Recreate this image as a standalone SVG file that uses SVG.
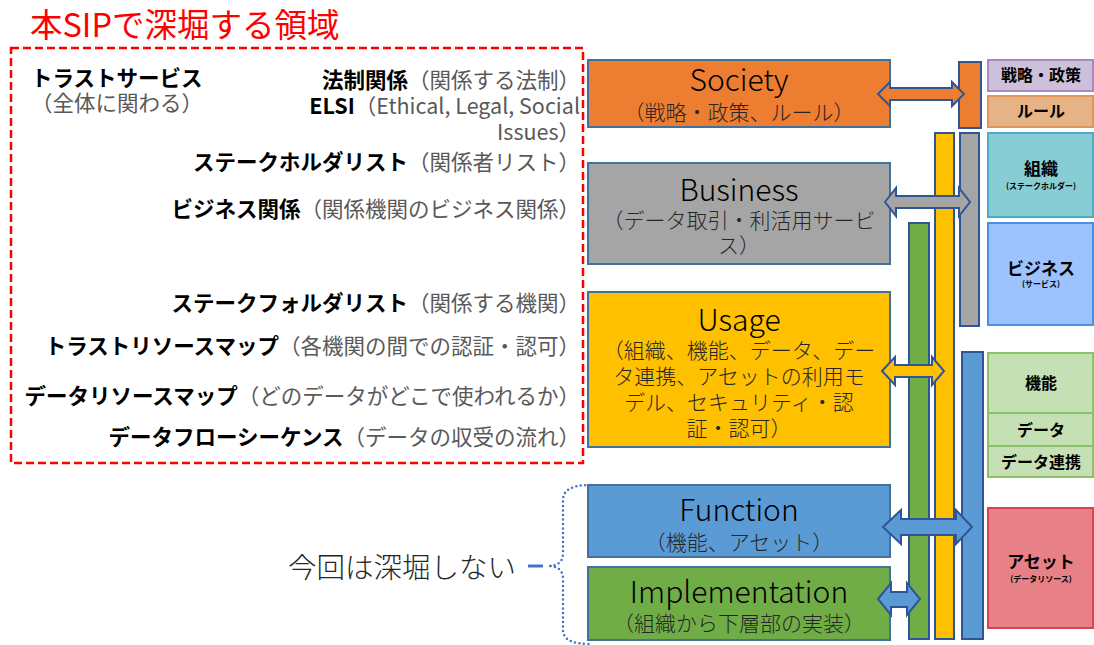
<svg xmlns="http://www.w3.org/2000/svg" width="1094" height="645" viewBox="0 0 1094 645">
<style>
text{font-family:"Noto Sans CJK JP","Noto Sans",sans-serif;dominant-baseline:central}
.b{font-weight:bold;fill:#000}
.g{fill:#595959;font-weight:normal}
.lt{font-size:21.5px}
.box{stroke:#41719C;stroke-width:2}
.bar{stroke:#2F5597;stroke-width:2}
.arr{stroke:#2F5597;stroke-width:2;stroke-linejoin:miter}
.big{font-size:30px;font-weight:300;fill:#000;text-anchor:middle}
.sub{font-size:21px;font-weight:300;fill:#262626;text-anchor:middle}
.rt{font-weight:bold;text-anchor:middle;fill:#000}
</style>
<rect width="1094" height="645" fill="#fff"/>

<g id="title"><text x="30" y="22" font-size="32.5" fill="#FF0000">本SIPで深堀する領域</text></g>
<g id="scope"><rect x="11" y="48" width="572" height="415" fill="none" stroke="#FF0000" stroke-width="2.5" stroke-dasharray="8 4"/></g>

<g id="left-texts" class="lt">
<text x="31" y="76" class="b">トラストサービス</text>
<text x="31" y="101" class="g">（全体に関わる）</text>
<text x="580" y="78" text-anchor="end"><tspan class="b">法制関係</tspan><tspan class="g">（関係する法制）</tspan></text>
<text x="580" y="104" text-anchor="end"><tspan class="b">ELSI</tspan><tspan class="g">（Ethical, Legal, Social</tspan></text>
<text x="580" y="130" text-anchor="end" class="g">Issues）</text>
<text x="580" y="160" text-anchor="end"><tspan class="b">ステークホルダリスト</tspan><tspan class="g">（関係者リスト）</tspan></text>
<text x="580" y="207" text-anchor="end"><tspan class="b">ビジネス関係</tspan><tspan class="g">（関係機関のビジネス関係）</tspan></text>
<text x="580" y="301" text-anchor="end"><tspan class="b">ステークフォルダリスト</tspan><tspan class="g">（関係する機関）</tspan></text>
<text x="580" y="344" text-anchor="end"><tspan class="b">トラストリソースマップ</tspan><tspan class="g">（各機関の間での認証・認可）</tspan></text>
<text x="580" y="394" text-anchor="end"><tspan class="b">データリソースマップ</tspan><tspan class="g">（どのデータがどこで使われるか）</tspan></text>
<text x="580" y="435" text-anchor="end"><tspan class="b">データフローシーケンス</tspan><tspan class="g">（データの収受の流れ）</tspan></text>
</g>

<g id="society"><rect class="box" x="588" y="60" width="302" height="67" fill="#ED7D31"/>
<text class="big" x="739" y="78">Society</text><text class="sub" x="739" y="111">（戦略・政策、ルール）</text></g>
<g id="business"><rect class="box" x="588" y="163" width="302" height="101" fill="#A5A5A5"/>
<text class="big" x="739" y="188">Business</text><text class="sub" x="739" y="219">（データ取引・利活用サービ</text><text class="sub" x="739" y="244">ス）</text></g>
<g id="usage"><rect class="box" x="588" y="292" width="302" height="155" fill="#FFC000"/>
<text class="big" x="739" y="318">Usage</text>
<text class="sub" x="739" y="349">（組織、機能、データ、デー</text>
<text class="sub" x="739" y="375">タ連携、アセットの利用モ</text>
<text class="sub" x="739" y="401">デル、セキュリティ・認</text>
<text class="sub" x="739" y="427">証・認可）</text></g>
<g id="function"><rect class="box" x="588" y="485" width="302" height="72" fill="#5B9BD5"/>
<text class="big" x="739" y="508">Function</text><text class="sub" x="739" y="541">（機能、アセット）</text></g>
<g id="implementation"><rect class="box" x="588" y="567" width="302" height="73" fill="#70AD47"/>
<text class="big" x="739" y="590">Implementation</text><text class="sub" x="739" y="622">（組織から下層部の実装）</text></g>

<g id="bars">
<rect class="bar" x="959" y="62" width="22" height="66" fill="#ED7D31"/>
<rect class="bar" x="960" y="133" width="19" height="193" fill="#A5A5A5"/>
<rect class="bar" x="935" y="133" width="19" height="506" fill="#FFC000"/>
<rect class="bar" x="909" y="223" width="20" height="416" fill="#70AD47"/>
<rect class="bar" x="962" y="352" width="21" height="287" fill="#5B9BD5"/>
</g>

<g id="connectors">
<polygon class="arr" fill="#ED7D31" points="878,94 890,82 890,88 952,88 952,82 964,94 952,106 952,100 890,100 890,106"/>
<polygon class="arr" fill="#A5A5A5" points="885,202 896,188 896,196 959,196 959,188 970,202 959,216 959,208 896,208 896,216"/>
<polygon class="arr" fill="#FFC000" points="882,371 895,357 895,365 932,365 932,357 944,371 932,385 932,377 895,377 895,385"/>
<polygon class="arr" fill="#5B9BD5" points="883,527 901,510 901,519 956,519 956,510 972,527 956,544 956,535 901,535 901,544"/>
<polygon class="arr" fill="#5B9BD5" points="878,599 891,583 891,592 907,592 907,583 920,599 907,615 907,607 891,607 891,615"/>
<line x1="528" y1="566" x2="543" y2="566" stroke="#4472C4" stroke-width="3"/>
<path d="M590,485 Q563,485 563,500 L563,553 Q563,566 548,566 Q563,566 563,579 L563,630 Q563,644 590,644" fill="none" stroke="#4472C4" stroke-width="2.5" stroke-linecap="round" stroke-dasharray="0 4.5"/>
</g>

<g id="not-deep"><text x="288" y="565" font-size="28.5" font-weight="300" fill="#262626">今回は深堀しない</text></g>

<g id="r-strategy"><rect x="988" y="60" width="105" height="31" fill="#CCC0DA" stroke="#A68BC1" stroke-width="2"/><text class="rt" x="1041" y="74" font-size="16">戦略・政策</text></g>
<g id="r-rule"><rect x="988" y="96" width="105" height="31" fill="#E6B386" stroke="#E0955B" stroke-width="2"/><text class="rt" x="1041" y="110" font-size="16">ルール</text></g>
<g id="r-org"><rect x="988" y="133" width="105" height="84" fill="#88CCD4" stroke="#4BACC6" stroke-width="2"/><text class="rt" x="1041" y="167" font-size="17">組織</text><text class="rt" x="1041" y="185" font-size="8">(ステークホルダー)</text></g>
<g id="r-biz"><rect x="988" y="223" width="105" height="102" fill="#9DC3FE" stroke="#4A8FE8" stroke-width="2"/><text class="rt" x="1041" y="267" font-size="17">ビジネス</text><text class="rt" x="1041" y="283" font-size="8">(サービス)</text></g>
<g id="r-func"><rect x="988" y="353" width="105" height="60" fill="#C5E0B4" stroke="#8CC168" stroke-width="2"/><text class="rt" x="1041" y="382" font-size="16">機能</text></g>
<g id="r-data"><rect x="988" y="413" width="105" height="33" fill="#C5E0B4" stroke="#8CC168" stroke-width="2"/><text class="rt" x="1041" y="429" font-size="16">データ</text></g>
<g id="r-link"><rect x="988" y="446" width="105" height="31" fill="#C5E0B4" stroke="#8CC168" stroke-width="2"/><text class="rt" x="1041" y="461" font-size="16">データ連携</text></g>
<g id="r-asset"><rect x="988" y="508" width="105" height="120" fill="#E88088" stroke="#D6454F" stroke-width="2"/><text class="rt" x="1041" y="560" font-size="17">アセット</text><text class="rt" x="1041" y="578" font-size="8">(データリソース)</text></g>
</svg>
